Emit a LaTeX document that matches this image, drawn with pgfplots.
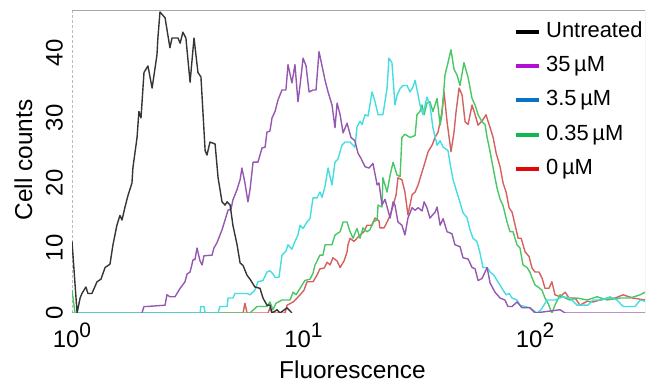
\documentclass[border=0pt]{standalone}
\usepackage{fontspec}
\setmainfont{Liberation Sans}
\usepackage{pgfplots}
\pgfplotsset{compat=1.18}
\definecolor{cBlack}{HTML}{353535}
\definecolor{cPurple}{HTML}{9558B2}
\definecolor{cCyan}{HTML}{45DDE0}
\definecolor{cGreen}{HTML}{48C865}
\definecolor{cRed}{HTML}{D56060}
\definecolor{lBlack}{HTML}{000000}
\definecolor{lPurple}{HTML}{B010D0}
\definecolor{lBlue}{HTML}{0A72C4}
\definecolor{lGreen}{HTML}{10B850}
\definecolor{lRed}{HTML}{E00808}
\definecolor{axgray}{HTML}{A8A8A8}
\begin{document}
\begin{tikzpicture}
\useasboundingbox (0,0) rectangle (646bp,383bp);
\begin{axis}[
  at={(72bp,70bp)}, anchor=south west,
  scale only axis, width=573bp, height=302.3bp,
  xmin=0, xmax=2.475, ymin=0, ymax=46.5,
  axis line style={draw=none},
  tick style={draw=none},
  xtick={0,1,2},
  xticklabels={10\raisebox{10bp}{\fontsize{21}{21}\selectfont 0},10\raisebox{10bp}{\fontsize{21}{21}\selectfont 1},10\raisebox{10bp}{\fontsize{21}{21}\selectfont 2}},
  ytick={0,10,20,30,40},
  /pgf/number format/assume math mode=true,
  ticklabel style={font=\fontsize{24}{24}\selectfont},
  xticklabel style={anchor=north, inner ysep=9.7bp},
  yticklabel style={rotate=90, anchor=south, inner ysep=9bp},
  xlabel={Fluorescence}, ylabel={Cell counts},
  label style={font=\fontsize{24.5}{24.5}\selectfont},
  xlabel style={at={(axis description cs:0.5,0)}, anchor=base, yshift=-65bp, xshift=-6bp},
  ylabel style={at={(axis description cs:-0.0698,0.506)}, anchor=base},
  legend style={draw=none, fill=none, at={(0.7705,0.987)}, anchor=north west, inner sep=0pt,
    font=\fontsize{22}{22}\selectfont, row sep=0pt,
    nodes={text height=16bp, text depth=5bp, inner ysep=6.6bp, inner xsep=5.5bp}},
  legend cell align=left,
  legend image code/.code={\draw[#1, line width=4bp] (0bp,0bp) -- (23bp,0bp);},
  every axis plot/.append style={line width=1.4bp, line join=round},
]
\draw[axgray, line width=0.9bp] (rel axis cs:0,1) -- (rel axis cs:1,1) -- (rel axis cs:1,0) -- (rel axis cs:0,0);
\draw[axgray!80, line width=0.9bp, dash pattern=on 3bp off 2bp] (rel axis cs:0,0) -- (rel axis cs:0,1);

% 0 uM (red)
\addplot[cRed, forget plot] coordinates {
(0,0) (0.739,0) (0.747,1.5) (0.756,0) (0.847,0) (0.855,0.8) (0.864,0) (0.920,0)
(0.929,1.2) (0.955,1.7) (0.972,2.3) (0.985,2.8) (1.002,3.5) (1.015,4.8) (1.041,4.8)
(1.058,5.8) (1.071,6.8) (1.089,6.9) (1.102,7.8) (1.115,7.4) (1.127,8.5) (1.145,8)
(1.158,7) (1.175,8) (1.188,9.4) (1.192,10.5) (1.201,11.5) (1.218,11) (1.231,11.5)
(1.244,12) (1.261,12.5) (1.274,13.5) (1.296,13.5) (1.309,14.6) (1.326,14.2) (1.330,13.1)
(1.348,13.1) (1.361,14) (1.374,15) (1.387,16.5) (1.400,18.2) (1.408,20.8) (1.425,20.5)
(1.438,18.6) (1.451,15.1) (1.469,18.2) (1.482,18.6) (1.495,19.7) (1.512,21.7) (1.525,23.2)
(1.538,24.8) (1.555,25.8) (1.568,27) (1.581,27.8) (1.590,29.4) (1.598,31) (1.607,34)
(1.620,29.4) (1.629,27) (1.637,24.8) (1.650,27.8) (1.659,31) (1.672,34.6) (1.685,33.5)
(1.698,29.4) (1.711,29) (1.728,32) (1.741,30.5) (1.754,28.9) (1.771,29.5) (1.788,30.5)
(1.806,28.5) (1.819,27) (1.832,24.6) (1.849,22.5) (1.862,20) (1.875,18.6) (1.888,16.2)
(1.901,15.5) (1.914,13.5) (1.927,11.5) (1.940,11.5) (1.957,9.4) (1.974,8.7) (1.987,6.9)
(2.000,6.3) (2.017,6.3) (2.030,5.4) (2.043,3.8) (2.060,3.8) (2.073,4.8) (2.086,2.8)
(2.108,2.5) (2.130,3.2) (2.147,2.3) (2.173,2.3) (2.194,1.2) (2.225,1.8) (2.251,1.7)
(2.311,2.3) (2.346,2.3) (2.380,2.8) (2.423,2.3) (2.475,2)
};
% 0.35 uM (green)
\addplot[cGreen, forget plot] coordinates {
(0,3.5) (0.013,0) (0.769,0) (0.799,1) (0.842,1) (0.855,1.7) (0.868,0.5) (0.881,1.5)
(0.907,2) (0.942,2) (0.955,3.2) (0.968,2.8) (0.985,3.8) (1.006,5) (1.028,5.2) (1.041,6.1)
(1.050,7.4) (1.071,8.9) (1.084,8.9) (1.093,10.5) (1.123,10.5) (1.136,12) (1.158,12.5)
(1.171,14) (1.188,14) (1.201,12.5) (1.214,11.5) (1.231,13) (1.244,11.5) (1.257,13.1)
(1.274,12.5) (1.287,12.8) (1.300,14) (1.318,14.3) (1.322,16.6) (1.339,16.3) (1.343,20.8)
(1.361,18.6) (1.374,21.2) (1.387,23.2) (1.404,21.2) (1.417,21) (1.425,27) (1.438,27.5)
(1.460,27) (1.482,27.3) (1.490,30.5) (1.503,31) (1.512,32) (1.521,30.5) (1.533,32.3)
(1.546,32.5) (1.559,31) (1.577,33) (1.590,28.9) (1.598,30.5) (1.611,36.6) (1.624,38.5)
(1.637,40.5) (1.650,37.5) (1.663,36.6) (1.676,35) (1.693,38.5) (1.711,36.2) (1.728,33)
(1.741,32) (1.754,30.5) (1.771,29.4) (1.784,29) (1.793,27) (1.806,24.8) (1.819,22.3)
(1.836,19.2) (1.849,17.5) (1.862,16.5) (1.879,14) (1.892,12.5) (1.905,12.5) (1.922,10.5)
(1.935,10) (1.948,7.4) (1.965,7) (1.978,6.3) (1.987,5.4) (2.000,4.3) (2.013,4)
(2.030,3.5) (2.043,2.3) (2.056,1.5) (2.073,0) (2.086,1.2) (2.108,2.8) (2.130,2.3)
(2.151,2) (2.181,2.3) (2.225,2) (2.268,2.5) (2.311,2) (2.367,2.3) (2.410,2.3)
(2.454,2.8) (2.475,3.2)
};
% 3.5 uM (cyan)
\addplot[cCyan, forget plot] coordinates {
(0,0) (0.553,0) (0.557,1) (0.570,1) (0.575,0) (0.631,0) (0.639,1) (0.670,1) (0.674,2.3)
(0.695,2.3) (0.704,3) (0.756,3) (0.769,2.8) (0.790,3.5) (0.803,4.8) (0.825,5) (0.842,6.3)
(0.855,6.5) (0.868,6) (0.877,5.5) (0.894,5.5) (0.907,8.9) (0.924,9.5) (0.933,10.5)
(0.950,9.8) (0.963,11) (0.976,12) (0.985,13.5) (0.998,13) (1.015,14) (1.028,14.5)
(1.041,17.7) (1.058,17.7) (1.071,18.6) (1.080,17.8) (1.093,19.5) (1.106,22.3) (1.123,19.7)
(1.136,23.2) (1.149,23.7) (1.166,25.8) (1.179,26.3) (1.201,26.3) (1.222,25.5) (1.231,28.6)
(1.244,29.5) (1.253,29) (1.266,30.5) (1.279,30.3) (1.296,34) (1.309,32.5) (1.322,30.5)
(1.343,30.5) (1.361,34.6) (1.369,39.2) (1.382,38.5) (1.395,32) (1.404,33.5) (1.417,34.5)
(1.430,35) (1.447,35) (1.460,34) (1.473,34.8) (1.482,35.8) (1.495,33.5) (1.503,32)
(1.516,30.5) (1.533,33.2) (1.546,32) (1.559,28.5) (1.577,25.8) (1.590,26.5) (1.603,25.5)
(1.624,25) (1.633,23) (1.646,20.5) (1.663,18.5) (1.676,17) (1.689,15.4) (1.706,14.7)
(1.719,12.8) (1.732,11.5) (1.749,11) (1.762,9.3) (1.775,7) (1.793,7) (1.806,6.3)
(1.823,5.8) (1.836,5) (1.849,4.3) (1.862,3.5) (1.875,2.8) (1.888,3) (1.901,2.3)
(1.922,2) (1.935,1.2) (1.978,0.8) (2.009,0) (2.026,0.5) (2.052,2) (2.086,2) (2.121,2.5)
(2.151,2.3) (2.181,1.2) (2.229,1.2) (2.251,2) (2.289,2) (2.324,2.5) (2.354,2) (2.380,1)
(2.432,1) (2.454,2) (2.475,1.8)
};
% 35 uM (purple)
\addplot[cPurple, forget plot] coordinates {
(0.302,0) (0.311,1) (0.324,1) (0.402,1.2) (0.410,2.8) (0.423,2.5) (0.445,2.5) (0.467,3.8)
(0.488,4.8) (0.497,6) (0.510,6.3) (0.523,8.2) (0.531,8.2) (0.540,10) (0.553,8) (0.562,7.4)
(0.570,8.8) (0.605,8.9) (0.613,10) (0.626,10.8) (0.648,12.8) (0.661,14.3) (0.674,15.8)
(0.687,16) (0.695,17.4) (0.713,19) (0.726,20.5) (0.734,22.3) (0.747,20) (0.760,17.1)
(0.769,19) (0.782,23.2) (0.803,23.2) (0.821,25.4) (0.834,25.5) (0.842,27.8) (0.855,28)
(0.864,30) (0.877,31) (0.890,32.8) (0.907,34.3) (0.924,34.3) (0.933,38.2) (0.950,35.4)
(0.963,38.2) (0.976,32.5) (0.985,35) (0.998,39.2) (1.011,38) (1.024,34) (1.041,34.3)
(1.054,34.3) (1.067,40.2) (1.093,35.8) (1.106,34) (1.123,32) (1.136,28.5) (1.145,32.3)
(1.158,30.5) (1.171,27.7) (1.188,29.2) (1.205,27) (1.222,26.5) (1.235,24.6) (1.248,23.8)
(1.266,22.5) (1.283,22.3) (1.300,23) (1.318,19.7) (1.326,20) (1.339,16.6) (1.352,17.5)
(1.374,14.6) (1.387,17.1) (1.395,16.6) (1.408,14) (1.425,13.5) (1.438,12) (1.451,14.6)
(1.469,16.2) (1.482,15.8) (1.495,16.2) (1.512,15.7) (1.521,17.1) (1.533,16.2) (1.546,14.6)
(1.568,15.5) (1.577,16.3) (1.590,13.5) (1.603,14.5) (1.620,12.5) (1.641,12.2) (1.654,10.5)
(1.676,10.2) (1.689,8.5) (1.711,8.3) (1.728,7) (1.741,6.8) (1.754,5) (1.771,5.3)
(1.793,7) (1.806,4.6) (1.827,3.2) (1.849,2.3) (1.870,2) (1.883,1) (1.901,1) (1.922,1.7)
(1.944,0.8) (1.978,0.8) (2.000,0) (2.108,0.5) (2.130,0) (2.475,0)
};
% Untreated (black)
\addplot[cBlack, forget plot] coordinates {
(0,11) (0.022,0) (0.035,2.3) (0.043,3) (0.060,4) (0.069,3) (0.086,3) (0.108,4.8)
(0.125,5.2) (0.143,7) (0.164,7.5) (0.177,10.5) (0.194,13.5) (0.207,15) (0.216,14.3)
(0.229,16.3) (0.242,18.1) (0.259,20) (0.263,22.3) (0.281,27) (0.289,31) (0.298,30)
(0.311,37) (0.328,38) (0.346,34.6) (0.367,39.7) (0.371,42.3) (0.380,46.3) (0.402,45.4)
(0.423,40.8) (0.432,42.3) (0.458,42.3) (0.467,41.5) (0.479,43.2) (0.492,42.3) (0.510,35.5)
(0.527,42.3) (0.544,37) (0.557,36.3) (0.575,25) (0.583,24.3) (0.596,26.3) (0.618,26)
(0.631,20.8) (0.648,17.1) (0.661,16.6) (0.670,17.1) (0.683,16.6) (0.695,13.5) (0.713,10.5)
(0.726,7.7) (0.739,7.3) (0.756,5.8) (0.769,5.2) (0.790,4) (0.812,3.8) (0.825,2.3)
(0.842,1.2) (0.855,1.2) (0.864,0) (0.886,0.5) (0.898,0) (0.929,0.8) (0.950,0)
};

\addlegendimage{lBlack}
\addlegendentry{Untreated}
\addlegendimage{lPurple}
\addlegendentry{35\,µM}
\addlegendimage{lBlue}
\addlegendentry{3.5\,µM}
\addlegendimage{lGreen}
\addlegendentry{0.35\,µM}
\addlegendimage{lRed}
\addlegendentry{0\,µM}
\end{axis}
\end{tikzpicture}
\end{document}
